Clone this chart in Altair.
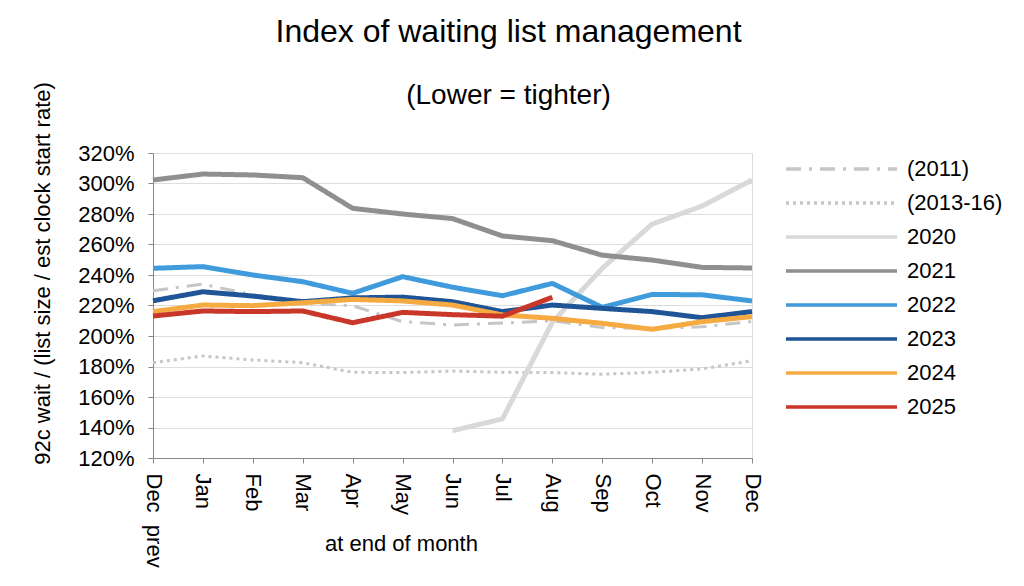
import altair as alt
import pandas as pd

months = ["Dec\u00a0\u00a0prev", "Jan", "Feb", "Mar", "Apr", "May", "Jun",
          "Jul", "Aug", "Sep", "Oct", "Nov", "Dec"]

series_names = ["(2011)", "(2013-16)", "2020", "2021", "2022", "2023", "2024", "2025"]
series_colors = ["#c6c6c6", "#c6c6c6", "#d9d9d9", "#8f8f8f", "#3f9bdb", "#1f5597", "#f5aa42", "#c9362a"]
series_dash = [[15, 8, 3, 8], [3, 4], [1, 0], [1, 0], [1, 0], [1, 0], [1, 0], [1, 0]]
historic = ["(2011)", "(2013-16)"]

# values in percent, index by month (None = no data)
v2011 = [229.7, 234.0, 227.0, 221.4, 219.9, 209.4, 207.2, 208.5, 210.0, 205.5, 205.0, 206.0, 209.5]
v2013 = [182.5, 186.9, 184.3, 182.5, 176.2, 176.0, 177.0, 176.2, 176.0, 174.9, 176.2, 178.4, 183.8]
v2020 = [None, None, None, None, None, None, 137.9, 145.6, 209.0, 244.4, 273.4, 285.2, 302.3]
v2021 = [302.3, 306.2, 305.6, 303.8, 283.7, 280.0, 277.0, 265.6, 262.5, 253.0, 249.8, 245.0, 244.6]
v2022 = [244.4, 245.5, 240.0, 235.6, 228.0, 238.9, 232.0, 226.4, 234.5, 218.8, 227.3, 227.0, 223.0]
v2023 = [223.1, 229.0, 226.2, 222.5, 225.0, 225.5, 222.5, 216.0, 220.3, 218.1, 216.0, 212.0, 216.0]
v2024 = [216.0, 220.3, 219.9, 221.8, 224.0, 223.0, 220.3, 213.8, 211.6, 208.3, 204.4, 209.4, 212.7]
v2025 = [213.1, 216.4, 216.0, 216.4, 208.7, 215.5, 214.0, 213.0, 225.4, None, None, None, None]

all_values = [v2011, v2013, v2020, v2021, v2022, v2023, v2024, v2025]

rows = []
for name, vals in zip(series_names, all_values):
    for i, (m, v) in enumerate(zip(months, vals)):
        if v is not None:
            rows.append({"series": name, "month": m, "idx": i, "value": v / 100.0})
df = pd.DataFrame(rows)

FONT = "Liberation Sans"

legend_kw = dict(title=None, orient="none", legendX=631, legendY=3,
                 symbolType="stroke", symbolSize=12321,
                 symbolStrokeWidth=3.5, labelFontSize=22,
                 clipHeight=26, rowPadding=8, labelOffset=8,
                 labelFont=FONT, labelColor="#000")

x_enc = alt.X("month:O", scale=alt.Scale(type="point", domain=months, padding=0),
              axis=alt.Axis(title="at end of month", labelAngle=90, labelPadding=10,
                            labelFontSize=22, titleFontSize=22, titleFontWeight="normal",
                            titleX=248, titleY=85, titleAlign="center", titleBaseline="middle",
                            labelOverlap=False))
y_enc = alt.Y("value:Q", scale=alt.Scale(domain=[1.2, 3.2], nice=False, zero=False),
              axis=alt.Axis(title="92c wait / (list size / est clock start rate)",
                            values=[1.2, 1.4, 1.6, 1.8, 2.0, 2.2, 2.4, 2.6, 2.8, 3.0, 3.2],
                            format=".0%", labelPadding=14, labelFontSize=22,
                            titleFontSize=22, titleFontWeight="normal",
                            titleX=-111, titleY=120, titleAlign="center", titleBaseline="middle",
                            titleAngle=270))
color_enc = alt.Color("series:N", scale=alt.Scale(domain=series_names, range=series_colors),
                      legend=alt.Legend(**legend_kw))
dash_enc = alt.StrokeDash("series:N", scale=alt.Scale(domain=series_names, range=series_dash),
                          legend=alt.Legend(**legend_kw))

base = alt.Chart(df).encode(
    x=x_enc, y=y_enc, color=color_enc, strokeDash=dash_enc,
    order=alt.Order("idx:Q"), detail="series:N",
)

hist_layer = base.transform_filter(
    alt.FieldOneOfPredicate(field="series", oneOf=historic)
).mark_line(strokeWidth=3, strokeCap="butt", strokeJoin="round")

main_layer = base.transform_filter(
    ~alt.FieldOneOfPredicate(field="series", oneOf=historic)
).mark_line(strokeWidth=5, strokeCap="butt", strokeJoin="round")

chart = alt.layer(hist_layer, main_layer).properties(
    width=599,
    height=305,
    autosize=alt.AutoSizeParams(type="none"),
    padding={"left": 145, "top": 145, "right": 264, "bottom": 120},
    title=alt.TitleParams(text="Index of waiting list management",
                          subtitle="(Lower = tighter)",
                          font=FONT, subtitleFont=FONT,
                          fontSize=32, subtitleFontSize=28,
                          fontWeight="normal", color="#000", subtitleColor="#000",
                          anchor="middle", dx=56, dy=74, offset=45, subtitlePadding=33),
).configure_view(
    stroke="#c8c8c8", strokeWidth=1.5
).configure_axis(
    domainColor="#bfbfbf", domainWidth=1.5, tickColor="#bfbfbf", tickWidth=1.5,
    tickSize=10, labelColor="#000", titleColor="#000", grid=False,
    labelFont=FONT, titleFont=FONT
).configure(
    font=FONT
)

chart.save("out.html", embed_options={"renderer": "svg", "actions": False})
